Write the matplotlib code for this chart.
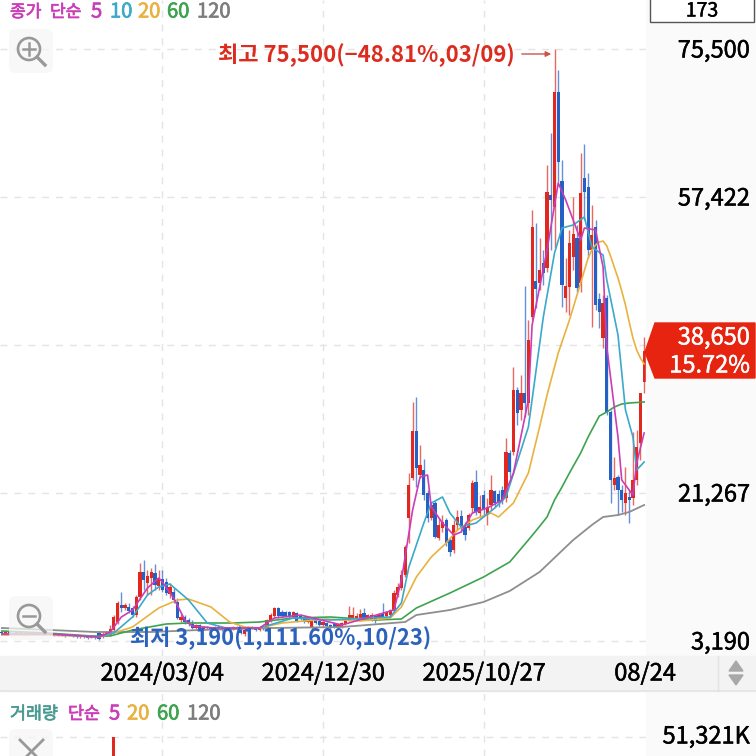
import matplotlib
matplotlib.use("Agg")
import matplotlib.pyplot as plt
import matplotlib.patheffects as pe
from matplotlib.patches import Circle, FancyBboxPatch, Polygon, Rectangle

plt.rcParams["font.family"] = ["Noto Sans CJK KR", "DejaVu Sans"]

# weekly candles (won)
opens = [
    4300, 4170, 4290, 4170, 4100, 4230, 4120, 4050, 4170, 4080,
    4150, 4060, 4160, 4070, 4000, 3920, 3980, 3900, 3800, 3850,
    3760, 3680, 3720, 3640, 3560, 3620, 4170, 3680, 3923, 3923,
    4534, 5511, 7587, 7221, 7343, 7221, 6366, 8565, 11618, 10275,
    10885, 11496, 9908, 10763, 10397, 8931, 9175, 7954, 5755, 6122,
    5755, 5267, 4778, 5144, 4660, 4900, 4780, 4660, 4900, 4780,
    4530, 4780, 4660, 4900, 4780, 4045, 4534, 4900, 4780, 4530,
    4900, 4778, 5755, 6244, 7221, 6732, 6732, 6732, 6122, 6610,
    6244, 6122, 5511, 4778, 6000, 5633, 5144, 5389, 5144, 5389,
    4778, 4900, 5267, 5755, 6000, 5877, 5999, 6610, 5877, 5755,
    6244, 5999, 6610, 6244, 6366, 6855, 8809, 9664, 11252, 18214,
    23100, 28842, 23467, 24078, 21268, 18214, 20047, 15771, 16993, 17970,
    15527, 14306, 17360, 18458, 17115, 16993, 19436, 22612, 18825, 21024,
    18580, 19802, 21513, 21146, 21635, 20658, 26154, 26276, 33850, 31407,
    33483, 32262, 42767, 47165, 46920, 49363, 48752, 57669, 56203, 70250,
    59379, 45088, 46431, 50096, 52417, 46920, 59745, 58645, 50951, 53760,
    44966, 40202, 45088, 31162, 22245, 23222, 21635, 20047, 20779, 20657,
    22856, 27376, 34826,
]
closes = [
    4170, 4290, 4170, 4100, 4230, 4120, 4050, 4170, 4080, 4150,
    4060, 4160, 4070, 4000, 3920, 3980, 3900, 3800, 3850, 3760,
    3680, 3720, 3640, 3560, 3620, 3500, 3435, 4045, 4290, 4656,
    6121, 7832, 7221, 7587, 6855, 6366, 8565, 11618, 10641, 11130,
    11618, 10031, 10885, 9420, 9053, 9786, 8198, 5999, 6122, 5511,
    5267, 4778, 5144, 4656, 4900, 4780, 4660, 4900, 4780, 4530,
    4780, 4660, 4900, 4780, 4170, 4534, 4900, 4780, 4530, 4900,
    4660, 5755, 6366, 7221, 6244, 6244, 6244, 6122, 6732, 5633,
    5877, 5511, 6000, 5755, 5389, 5144, 5511, 5023, 4778, 4900,
    5267, 5389, 5877, 6366, 6366, 6244, 6488, 5999, 6366, 6366,
    5633, 6366, 6122, 6732, 6977, 9053, 9786, 11252, 14672, 22245,
    28842, 24322, 24688, 21024, 18214, 19802, 15894, 17360, 17726, 15161,
    14061, 17360, 18336, 16993, 16138, 18580, 22490, 18947, 19558, 19192,
    19558, 21635, 20047, 20169, 20413, 26276, 23833, 33850, 31040, 33483,
    32262, 39958, 53760, 46187, 48508, 48142, 58035, 57058, 70250, 61700,
    46676, 46553, 51806, 52905, 46309, 57913, 58035, 50951, 52783, 44234,
    43378, 44477, 31162, 22856, 23100, 21635, 20413, 21268, 20413, 22856,
    26887, 33483, 38650,
]
highs = [
    4400, 4400, 4350, 4290, 4350, 4300, 4230, 4290, 4230, 4260,
    4230, 4530, 4230, 4120, 4050, 4100, 4020, 3950, 3980, 3880,
    3800, 3840, 3760, 3680, 3740, 3650, 4410, 4290, 4400, 5144,
    6366, 8076, 9176, 7832, 7832, 7465, 8809, 12718, 13084, 11863,
    12107, 12596, 11863, 11863, 10885, 10275, 9664, 8443, 6488, 6366,
    5999, 5755, 5267, 5267, 5020, 5020, 4900, 5020, 5140, 4900,
    4900, 4900, 5020, 5020, 4900, 4900, 5020, 5020, 4900, 5020,
    5020, 5877, 6600, 7343, 7343, 6977, 6855, 6855, 6855, 6732,
    6366, 6244, 6122, 5877, 6122, 5755, 5633, 5511, 5267, 5511,
    5389, 5511, 6000, 7465, 7343, 6610, 7100, 7221, 6488, 6610,
    6366, 6610, 7832, 6855, 7100, 9420, 10275, 11863, 14916, 23711,
    32384, 32995, 27132, 25421, 21635, 20169, 20291, 18214, 18580, 18214,
    15771, 17970, 19192, 19192, 17726, 18825, 22856, 24078, 21024, 21635,
    20658, 23467, 21635, 21635, 22123, 27986, 26521, 36659, 34217, 35681,
    46553, 42401, 55837, 54248, 52417, 50951, 61334, 65242, 75500, 72937,
    61944, 49974, 53394, 57425, 54004, 62800, 63900, 60357, 56448, 54615,
    45699, 45455, 45455, 31407, 25665, 23467, 22245, 24444, 21635, 28720,
    28964, 33483, 40323,
]
lows = [
    4050, 4100, 4050, 4000, 4000, 4000, 3920, 3980, 3980, 4000,
    3950, 3980, 3900, 3900, 3800, 3850, 3780, 3680, 3740, 3640,
    3560, 3600, 3520, 3440, 3500, 3400, 3312, 3560, 3800, 3800,
    4410, 5267, 6733, 6977, 6611, 6121, 6121, 8198, 9420, 8809,
    8809, 9420, 9420, 9176, 8809, 8443, 7832, 5877, 5511, 5267,
    5023, 4656, 4656, 4534, 4530, 4650, 4530, 4530, 4650, 4410,
    4410, 4530, 4530, 4650, 4050, 3800, 4410, 4650, 4410, 4410,
    4530, 4656, 5511, 5999, 5999, 6122, 6122, 5999, 5999, 5511,
    5755, 5389, 5389, 4534, 5267, 5023, 5023, 4900, 4656, 4778,
    4534, 4778, 5144, 5633, 5877, 5755, 5877, 5877, 5755, 5633,
    5389, 5877, 5999, 6122, 6244, 6733, 8565, 9420, 11008, 15161,
    22856, 22001, 23100, 20413, 17726, 17970, 15771, 15527, 16504, 14794,
    13573, 13940, 16749, 16504, 15527, 16749, 18947, 18580, 18214, 18580,
    17360, 19192, 19558, 19558, 19925, 20169, 23100, 25910, 29574, 30185,
    30552, 30796, 42401, 43866, 46065, 46676, 48264, 50951, 51195, 59257,
    43988, 43378, 43012, 48508, 45821, 45821, 54615, 49974, 41545, 43622,
    41423, 38980, 30796, 20047, 21635, 18580, 18947, 18580, 17604, 19803,
    22245, 25299, 33483,
]

# moving averages, read at the weeks listed
ma5_weeks = [0, 13, 26, 29, 32, 35, 39, 42, 43, 46, 49, 51, 57, 69, 73, 80, 91, 105, 107, 110,
             112, 114, 115, 118, 121, 123, 126, 130, 134, 137, 141, 142, 146, 149, 151, 153,
             155, 156, 159, 161, 162, 165, 166, 169, 170, 172]
ma5 = [4045, 4045, 3679, 4290, 6122, 6977, 9664, 10885, 10397, 8443, 5755, 5022, 4778, 4778, 6000,
       6366, 5144, 6977, 10641, 19192, 23223, 23467, 19558, 17604, 16138, 16504, 18825, 19436,
       20413, 23711, 32628, 41789, 50951, 59135, 57058, 54615, 52172, 53638, 53394, 48874,
       39102, 28109, 22856, 21024, 24932, 28598]
ma10_weeks = [0, 13, 26, 30, 35, 39, 42, 45, 50, 55, 60, 69, 78, 88, 104, 107, 109, 113, 115, 118,
              120, 123, 127, 132, 135, 141, 145, 148, 150, 153, 156, 158, 161, 162, 165, 167,
              169, 170, 172]
ma10 = [4045, 4045, 3679, 4167, 6122, 8809, 9786, 10153, 8198, 5389, 4778, 4778, 6000, 5755, 6122,
        7832, 12229, 17604, 20047, 20780, 18825, 17115, 17604, 19436, 20780, 29330, 42767,
        50584, 53638, 54004, 54982, 51317, 50340, 47287, 40568, 31407, 28109, 24078, 25055]
ma20_weeks = [0, 13, 26, 30, 35, 42, 47, 50, 56, 61, 65, 69, 75, 87, 96, 104, 107, 111, 115, 119,
              122, 126, 131, 133, 137, 141, 144, 146, 149, 152, 155, 157, 158, 159, 160, 161,
              162, 163, 164, 165, 166, 167, 168, 169, 170, 171, 172]
ma20 = [3923, 3923, 3679, 4167, 4900, 7221, 8198, 8320, 7343, 5511, 4900, 4778, 5389, 5877, 5633,
        6000, 7343, 11008, 13451, 15161, 16749, 17970, 18825, 18337, 20047, 23711, 29330,
        33239, 38370, 42401, 46920, 49974, 50951, 51561, 51927, 52050,
        51439, 50218, 48874, 47530, 45943, 44232, 42155, 40201, 38736, 37759, 37026]
ma60_weeks = [0, 12, 24, 29, 35, 44, 50, 62, 69, 78, 88, 100, 107, 111, 120, 129, 136, 141, 143, 146,
              148, 150, 152, 155, 157, 159, 160, 162, 164, 166, 168, 172]
ma60 = [4411, 4167, 3801, 3801, 4534, 5267, 5389, 5389, 5511, 6000, 6122, 5755, 5877, 7221, 9053,
        11008, 12840, 15527, 16627, 18337, 20413, 22001, 23711, 26154, 28109, 29819, 30674,
        31162, 31773, 32140, 32262, 32384]
ma120_weeks = [0, 13, 25, 40, 53, 72, 91, 108, 111, 120, 129, 136, 144, 153, 158, 161, 165, 168, 172]
ma120 = [4778, 4534, 4290, 4290, 4534, 4778, 4900, 5511, 6366, 6977, 7954, 9298, 11618, 15527,
         17360, 18337, 18581, 18947, 19802]

price_ticks = [3190, 21267, 39345, 57422, 75500]
price_labels = ["3,190", "21,267", "", "57,422", "75,500"]
date_weeks = [43, 86, 129]
date_labels = ["2024/03/04", "2024/12/30", "2025/10/27"]
volume_weeks = [30]
volumes = [51321]

RED = "#e0281e"
BLUE = "#2460c6"
MAGENTA = "#cb3db6"
CYAN = "#3ba9c9"
YELLOW = "#e9b240"
GREEN = "#3ea34f"
GREY = "#8e8e8e"
GRID = "#e4e4e4"

W = 756
fig = plt.figure(figsize=(7.56, 7.56), dpi=100, facecolor="white")


def px_axes(left, top, right, bottom, **kw):
    return fig.add_axes([left / W, 1 - bottom / W, (right - left) / W, (bottom - top) / W], **kw)


# ---------------- price panel ----------------

ax = px_axes(0, 0, 646, 656)
ax.set_xlim(-0.5, 172.5)
ax.set_ylim(1358, 81490)
for side in ax.spines.values():
    side.set_visible(False)
ax.set_xticks([])
ax.set_yticks([])

for t in price_ticks:
    ax.axhline(t, color=GRID, lw=1, dashes=(5, 5), zorder=1)
for w in date_weeks:
    ax.axvline(w, color=GRID, lw=1, dashes=(5, 5), zorder=1)

for i in range(len(opens)):
    up = closes[i] >= opens[i]
    c = RED if up else BLUE
    ax.vlines(i, lows[i], highs[i], color=c, lw=1.0, alpha=0.7, zorder=2)
    ax.bar(i, abs(closes[i] - opens[i]), bottom=min(opens[i], closes[i]), width=0.86, color=c, zorder=3)

ax.plot(ma120_weeks, ma120, color=GREY, lw=1.3, zorder=4)
ax.plot(ma60_weeks, ma60, color=GREEN, lw=1.2, zorder=4)
ax.plot(ma20_weeks, ma20, color=YELLOW, lw=1.2, zorder=5)
ax.plot(ma10_weeks, ma10, color=CYAN, lw=1.2, zorder=5)
ax.plot(ma5_weeks, ma5, color=MAGENTA, lw=1.2, zorder=6)

# ---------------- volume panel ----------------

vol = px_axes(0, 692, 646, 756)
vol.set_xlim(-0.5, 172.5)
vol.set_ylim(32321, 96321)
for side in vol.spines.values():
    side.set_visible(False)
vol.set_xticks([])
vol.set_yticks([])
vol.axhline(volumes[0], color=GRID, lw=1, dashes=(5, 5), zorder=1)
for w in date_weeks:
    vol.axvline(w, color=GRID, lw=1, dashes=(5, 5), zorder=1)
vol.bar(volume_weeks, volumes, width=0.86, color=RED, zorder=3)

# ---------------- screen furniture, in pixels ----------------

ui = px_axes(0, 0, W, W)
ui.set_xlim(0, W)
ui.set_ylim(W, 0)
ui.axis("off")
ui.patch.set_alpha(0)

ui.add_patch(Rectangle((646, 0), 110, 756, color="#fafafa", zorder=0))
ui.add_patch(Rectangle((0, 656), 756, 35, color="#f3f3f3", zorder=1))
ui.plot([0, 756], [691, 691], color="#e4e4e4", lw=1.2, zorder=2)
ui.plot([718, 718], [656, 691], color="#e2e2e2", lw=1, zorder=2)
ui.add_patch(Polygon([[736, 661], [729, 671], [743, 671]], color="#a8a8a8", zorder=3))
ui.add_patch(Polygon([[729, 675], [743, 675], [736, 685]], color="#a8a8a8", zorder=3))
ui.add_patch(Rectangle((650, -3), 104, 25, fc="white", ec="#555555", lw=1, zorder=3))


def label(x, y, s, color="black", size=17, ha="center", weight="normal", stroke=0.35):
    t = ui.text(x, y + 2, s, color=color, fontsize=size, ha=ha, va="center", fontweight=weight, zorder=10)
    if stroke:
        t.set_path_effects([pe.withStroke(linewidth=stroke, foreground=color)])


label(702, 9, "173", size=14)
for t, s in zip(price_ticks, price_labels):
    if s:
        label(750, 641 - (t - 3190) / 122.15, s, ha="right")
label(162, 672, date_labels[0])
label(323, 672, date_labels[1])
label(484, 672, date_labels[2])
label(645, 672, "08/24")
label(750, 735, "51,321K", ha="right")

for x, s, size, c in [(10, "종가", 12.3, MAGENTA), (50, "단순", 12.3, MAGENTA), (91, "5", 14.5, MAGENTA),
                      (110, "10", 14.5, CYAN), (138, "20", 14.5, YELLOW), (167, "60", 14.5, GREEN),
                      (197, "120", 14.5, "#7d7d7d")]:
    label(x, 10, s, color=c, size=size, ha="left", stroke=0.5)
for x, s, size, c in [(10, "거래량", 12.5, "#4a9a94"), (68, "단순", 12.5, MAGENTA), (109, "5", 14.5, MAGENTA),
                      (127, "20", 14.5, YELLOW), (157, "60", 14.5, GREEN), (187, "120", 14.5, "#7d7d7d")]:
    label(x, 712, s, color=c, size=size, ha="left", stroke=0.5)

label(218, 53, "최고 75,500(−48.81%,03/09)", color="#dc2c1f", size=15.9, ha="left", weight="bold", stroke=0)
ui.annotate("", xy=(554, 54), xytext=(519, 54),
            arrowprops=dict(arrowstyle="-|>", color="#c9564d", lw=1, mutation_scale=8), zorder=10)
label(130, 636, "최저 3,190(1,111.60%,10/23)", color="#2b62bb", size=15.8, ha="left", weight="bold", stroke=0)

# current price tag
ui.add_patch(Polygon([[645, 352], [655, 323], [755, 323], [755, 378], [655, 378]], color="#e6240f", zorder=8))
label(750, 336, "38,650", color="white", ha="right")
label(750, 364, "15.72%", color="white", ha="right")

# zoom buttons
for top in (29, 596, 729):
    ui.add_patch(FancyBboxPatch((13, top + 4), 36, 36, boxstyle="round,pad=4,rounding_size=7",
                                fc="#f6f6f6", ec="none", alpha=0.75, zorder=7))
for cy, sign in ((49, "+"), (616, "-")):
    ui.add_patch(Circle((29, cy), 11, fc="none", ec="#999999", lw=1.9, zorder=8))
    ui.plot([37, 45], [cy + 8, cy + 16], color="#999999", lw=2.4, zorder=8)
    ui.plot([23, 35], [cy, cy], color="#999999", lw=1.8, zorder=8)
    if sign == "+":
        ui.plot([29, 29], [cy - 6, cy + 6], color="#999999", lw=1.8, zorder=8)
ui.plot([20, 43], [740, 763], color="#999999", lw=2, zorder=8)
ui.plot([43, 20], [740, 763], color="#999999", lw=2, zorder=8)
ui.set_xlim(0, W)
ui.set_ylim(W, 0)

fig.savefig("out.png", dpi=100)
plt.close(fig)
